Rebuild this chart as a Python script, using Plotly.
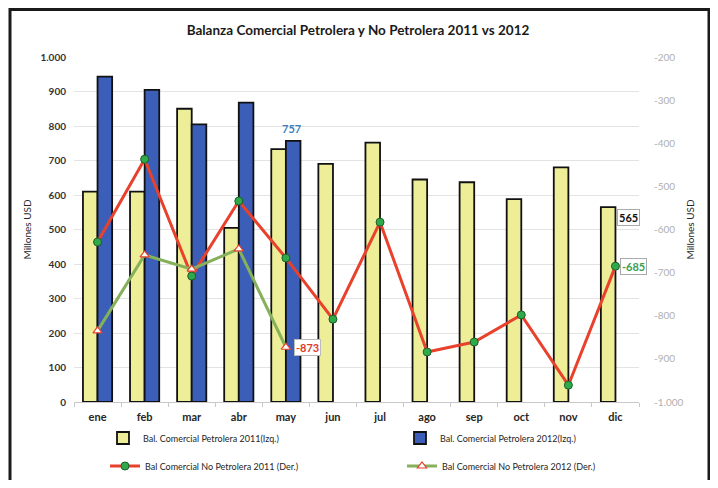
import plotly.graph_objects as go

meses = ["ene", "feb", "mar", "abr", "may", "jun", "jul", "ago", "sep", "oct", "nov", "dic"]
petrolera_2011 = [610, 610, 850, 505, 733, 690, 752, 645, 637, 588, 680, 565]
petrolera_2012 = [943, 905, 805, 868, 757]
no_petrolera_2011 = [-629, -437, -708, -534, -666, -808, -583, -884, -861, -798, -961, -685]
no_petrolera_2012 = [-835, -659, -692, -645, -873]

left_ticks = [0, 100, 200, 300, 400, 500, 600, 700, 800, 900, 1000]
left_ticktext = ["0", "100", "200", "300", "400", "500", "600", "700", "800", "900", "1.000"]
right_ticks = [-1000, -900, -800, -700, -600, -500, -400, -300, -200]
right_ticktext = ["-1.000", "-900", "-800", "-700", "-600", "-500", "-400", "-300", "-200"]

FONT = "Lato"

# the page puts the figure at (8, 8); sizes chosen so it fits the 718x488 window
OFF = 8
W, H = 702, 472
ML = 74 - OFF
MT = 57 - OFF
PW = 639 - 74
PH = 402 - 57
MR = W - ML - PW
MB = H - MT - PH

fig = go.Figure()
fig.add_trace(go.Bar(
    x=meses, y=petrolera_2011, name="Bal. Comercial Petrolera 2011(Izq.)",
    marker=dict(color="#eeee99", line=dict(color="#111111", width=1.8)),
    legend="legend"))
fig.add_trace(go.Bar(
    x=meses[:len(petrolera_2012)], y=petrolera_2012, name="Bal. Comercial Petrolera 2012(Izq.)",
    marker=dict(color="#3b5fb8", line=dict(color="#111111", width=1.8)),
    legend="legend2"))
fig.add_trace(go.Scatter(
    x=meses, y=no_petrolera_2011, yaxis="y2", mode="lines+markers",
    name="Bal Comercial No Petrolera 2011 (Der.)",
    line=dict(color="#e8412c", width=3),
    marker=dict(symbol="circle", size=8, color="#2eaa4a", line=dict(color="#1f5e2a", width=1)),
    legend="legend3"))
fig.add_trace(go.Scatter(
    x=meses[:len(no_petrolera_2012)], y=no_petrolera_2012, yaxis="y2", mode="lines+markers",
    name="Bal Comercial No Petrolera 2012 (Der.)",
    line=dict(color="#86b05a", width=3),
    marker=dict(symbol="triangle-up", size=8, color="white", line=dict(color="#e8412c", width=1.2)),
    legend="legend4"))

annotations = [
    dict(x=4, y=petrolera_2012[4], xref="x", yref="y", text="<b>757</b>", showarrow=False,
         xshift=6, yshift=12, font=dict(color="#3d7fc0", size=11, family=FONT)),
    dict(x=4, y=no_petrolera_2012[4], xref="x", yref="y2", text="<b>-873</b>", showarrow=False,
         xanchor="left", xshift=8, font=dict(color="#e03a2a", size=11, family=FONT),
         bgcolor="white", bordercolor="#bbbbbb", borderwidth=1, borderpad=1),
    dict(x=11, y=petrolera_2011[11], xref="x", yref="y", text="<b>565</b>", showarrow=False,
         xanchor="left", xshift=2, yshift=-10, font=dict(color="#111111", size=11, family=FONT),
         bgcolor="white", bordercolor="#aaaaaa", borderwidth=1, borderpad=1),
    dict(x=11, y=no_petrolera_2011[11], xref="x", yref="y2", text="<b>-685</b>", showarrow=False,
         xanchor="left", xshift=5, font=dict(color="#3aa050", size=11, family=FONT),
         bgcolor="white", bordercolor="#aaaaaa", borderwidth=1, borderpad=1),
]


def leg(px_left, py_center):
    # page coordinates -> legend paper coordinates
    return dict(orientation="h", x=(px_left - OFF - ML) / PW, y=(MT + PH - (py_center - OFF)) / PH,
                xanchor="left", yanchor="middle",
                font=dict(size=9, color="#262626"), bgcolor="rgba(0,0,0,0)")


fig.update_layout(
    width=W, height=H, showlegend=True,
    margin=dict(l=ML, r=MR, t=MT, b=MB, autoexpand=False),
    paper_bgcolor="white", plot_bgcolor="white",
    font=dict(family=FONT, color="#404040", size=10),
    title=dict(text="<b>Balanza Comercial Petrolera y No Petrolera 2011 vs 2012</b>",
               x=(358 - OFF) / W, xanchor="center", y=1 - (30 - OFF) / H, yanchor="middle",
               font=dict(size=13.5, color="#1a1a1a", family=FONT)),
    barmode="group", bargap=0.38, bargroupgap=0.0,
    xaxis=dict(type="category", range=[-0.5, 11.5], showgrid=False, showline=True,
               linecolor="#c8c8c8", ticks="outside", tickson="boundaries", ticklen=4,
               tickcolor="#c8c8c8", ticklabelstandoff=5,
               tickfont=dict(size=11, color="#262626", weight="bold")),
    yaxis=dict(range=[0, 1000], tickvals=left_ticks, ticktext=left_ticktext,
               showgrid=True, gridcolor="#e3e3e3", zeroline=False, ticklabelstandoff=7,
               tickfont=dict(size=10, color="#333333", weight="bold"),
               title=dict(text="Millones USD", font=dict(size=10, color="#262626"), standoff=6)),
    yaxis2=dict(range=[-1000, -200], tickvals=right_ticks, ticktext=right_ticktext,
                overlaying="y", side="right", showgrid=False, zeroline=False, ticklabelstandoff=14,
                tickfont=dict(size=10, color="#b0b0b0"),
                title=dict(text="Millones USD", font=dict(size=10, color="#262626"), standoff=4)),
    legend=leg(103, 438),
    legend2=leg(400, 438),
    legend3=leg(105, 466),
    legend4=leg(402, 466),
    annotations=annotations,
    shapes=[dict(type="rect", xref="paper", yref="paper",
                 x0=(2 - ML) / PW, x1=(701 - ML) / PW, y0=-(MB + 20) / PH, y1=1 + (MT - 1.5) / PH,
                 line=dict(color="#1a1a1a", width=3), fillcolor="rgba(0,0,0,0)", layer="above")],
)

fig.write_html("out.html")
